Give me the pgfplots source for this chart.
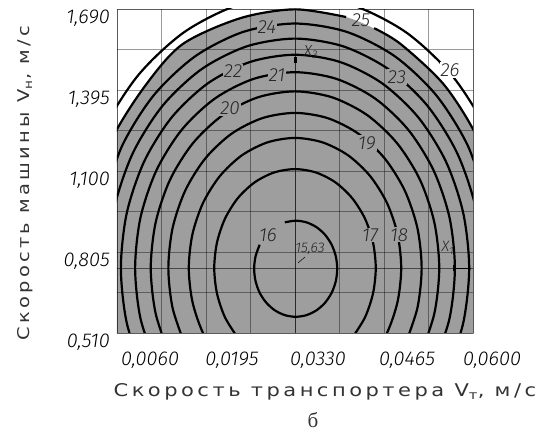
\documentclass[border=0pt]{standalone}
\usepackage{fontspec}
\usepackage{pgfplots}
\pgfplotsset{compat=1.18}
\setmainfont{DejaVu Sans}
\newfontfamily\tickfont{Fira Sans Light Italic}
\newfontfamily\labfont[FakeStretch=1.2,LetterSpace=20]{DejaVu Sans}
\newfontfamily\bfont{Liberation Serif}
\definecolor{cgray}{RGB}{158,158,158}
\begin{document}
\begin{tikzpicture}[lbl/.style={font=\tickfont\fontsize{19}{19}\selectfont, inner sep=1pt, fill=cgray, text=black!85}]
\path[use as bounding box] (-117pt,-102pt) rectangle (431pt,333pt);
\begin{axis}[
  at={(0pt,0pt)}, anchor=south west,
  scale only axis, width=356pt, height=324pt,
  xmin=0.006, xmax=0.06, ymin=0.51, ymax=1.69,
  scaled x ticks=false, scaled y ticks=false,
  axis on top,
  xtick={0.006,0.0195,0.033,0.0465,0.06},
  minor xtick={0.01275,0.02625,0.03975,0.05325},
  ytick={0.51,0.805,1.1,1.395,1.69},
  minor ytick={0.6575,0.9525,1.2475,1.5425},
  xticklabels={{\hspace*{20pt}0,0060},{\hspace*{6pt}0,0195},{0,0330},{0,0465},{\hspace*{-8pt}0,0600}},
  yticklabels={{0,510},{0,805},{1,100},{1,395},{1,690}},
  grid=both,
  major grid style={black, opacity=0.4, line width=0.6pt},
  minor grid style={black, opacity=0.4, line width=0.6pt},
  axis line style={black, opacity=0.4, line width=0.6pt},
  major tick length=0pt, minor tick length=0pt,
  xticklabel style={font=\tickfont\fontsize{20}{20}\selectfont, anchor=center, inner sep=0pt, xshift=23pt, yshift=-27pt},
  yticklabel style={font=\tickfont\fontsize{20}{20}\selectfont, anchor=east, inner sep=0pt, xshift=-7pt, yshift=-9pt},
  xlabel={Скорость транспортера V\textsubscript{т}, м/с},
  ylabel={Скорость машины V\textsubscript{н}, м/с},
  xlabel style={at={(axis description cs:0.584,-0.182)}, anchor=center, font=\labfont\fontsize{17.5}{17.5}\selectfont, text=black!80},
  ylabel style={at={(axis description cs:-0.258,0.463)}, anchor=center, font=\labfont\fontsize{16.2}{16.2}\selectfont, text=black!80},
  cl/.style={black, line width=2.2pt, smooth, mark=none},
]
% gray region (inside contour 25)
\addplot[draw=none, fill=cgray, smooth] coordinates {
(0.06074,0.27570) (0.06394,0.50291) (0.06504,0.74670) (0.06394,0.99049) (0.06074,1.21770)
(0.05565,1.41279) (0.04902,1.56247) (0.04129,1.65658) (0.03300,1.68870) (0.02471,1.65658)
(0.01598,1.56247) (0.01035,1.41279) (0.00526,1.21770) (0.00206,0.99049) (0.00096,0.74670)
(0.00206,0.50291) (0.00526,0.27570)};
% center lines
\addplot[black, opacity=0.55, line width=0.9pt] coordinates {(0.006,0.7467) (0.06,0.7467)};
\addplot[black, opacity=0.55, line width=0.9pt] coordinates {(0.033,0.51) (0.033,1.69)};
% contour 16
\addplot[cl] coordinates {
(0.02764,0.83150) (0.02702,0.78929) (0.02680,0.74400) (0.02702,0.69871) (0.02764,0.65650)
(0.02865,0.62026) (0.02995,0.59245) (0.03147,0.57497) (0.03310,0.56900) (0.03473,0.57497)
(0.03625,0.59245) (0.03756,0.62026) (0.03856,0.65650) (0.03919,0.69871) (0.03940,0.74400)
(0.03919,0.78929) (0.03856,0.83150) (0.03756,0.86774) (0.03625,0.89555) (0.03473,0.91303)
(0.03310,0.91900) (0.03147,0.91303)};
% contour 17
\addplot[cl] coordinates {
(0.04166,0.49200) (0.04361,0.56660) (0.04483,0.65348) (0.04525,0.74670) (0.04483,0.83992)
(0.04361,0.92680) (0.04166,1.00140) (0.03913,1.05863) (0.03617,1.09462) (0.03300,1.10690)
(0.02983,1.09462) (0.02688,1.05863) (0.02434,1.00140) (0.02239,0.92680) (0.02117,0.83992)
(0.02075,0.74670) (0.02117,0.65348) (0.02239,0.56660) (0.02434,0.49200)};
% contour 18
\addplot[cl] coordinates {
(0.04439,0.41170) (0.04695,0.50982) (0.04856,0.62409) (0.04911,0.74670) (0.04856,0.86931)
(0.04695,0.98358) (0.04439,1.08170) (0.04106,1.15698) (0.03717,1.20431) (0.03300,1.22046)
(0.02883,1.20431) (0.02494,1.15698) (0.02161,1.08170) (0.01905,0.98358) (0.01744,0.86931)
(0.01689,0.74670) (0.01744,0.62409) (0.01905,0.50982) (0.02161,0.41170)};
% contour 19
\addplot[cl] coordinates {
(0.04964,0.46422) (0.05156,0.60049) (0.05221,0.74670) (0.05156,0.89291) (0.04964,1.02918)
(0.04659,1.14618) (0.04261,1.23595) (0.03797,1.29239) (0.03300,1.31165) (0.02803,1.29239)
(0.02339,1.23595) (0.01941,1.14618) (0.01636,1.02918) (0.01444,0.89291) (0.01379,0.74670)
(0.01444,0.60049) (0.01636,0.46422)};
% contour 20
\addplot[cl] coordinates {
(0.05195,0.42503) (0.05413,0.58021) (0.05488,0.74670) (0.05413,0.91319) (0.05195,1.06837)
(0.04847,1.20160) (0.04394,1.30382) (0.03866,1.36809) (0.03300,1.39003) (0.02734,1.36809)
(0.02206,1.30382) (0.01753,1.20160) (0.01405,1.06837) (0.01187,0.91319) (0.01112,0.74670)
(0.01187,0.58021) (0.01405,0.42503)};
% contour 21
\addplot[cl] coordinates {
(0.05400,0.39013) (0.05643,0.56214) (0.05725,0.74670) (0.05643,0.93126) (0.05400,1.10327)
(0.05015,1.25095) (0.04513,1.36427) (0.03928,1.43551) (0.03300,1.45983) (0.02672,1.43551)
(0.02087,1.36427) (0.01585,1.25095) (0.01200,1.10327) (0.00957,0.93126) (0.00875,0.74670)
(0.00957,0.56214) (0.01200,0.39013)};
% contour 22
\addplot[cl] coordinates {
(0.05588,0.35834) (0.05851,0.54569) (0.05942,0.74670) (0.05851,0.94771) (0.05588,1.13506)
(0.05168,1.29591) (0.04621,1.41933) (0.03984,1.49693) (0.03300,1.52341) (0.02616,1.49693)
(0.01979,1.41933) (0.01432,1.29591) (0.01013,1.13506) (0.00749,0.94771) (0.00659,0.74670)
(0.00749,0.54569) (0.01013,0.35834)};
% contour 23
\addplot[cl] coordinates {
(0.06044,0.53049) (0.06141,0.74670) (0.06044,0.96291) (0.05761,1.16443) (0.05309,1.33745)
(0.04721,1.47020) (0.04035,1.55366) (0.03300,1.58215) (0.02565,1.55366) (0.01879,1.47020)
(0.01291,1.33745) (0.00839,1.16443) (0.00556,0.96291) (0.00459,0.74670) (0.00556,0.53049)};
% contour 24
\addplot[cl] coordinates {
(0.06225,0.97712) (0.05922,1.19186) (0.05441,1.37624) (0.04814,1.51772) (0.04084,1.60666)
(0.03300,1.63702) (0.02516,1.60666) (0.01786,1.51772) (0.01159,1.37624) (0.00678,1.19186)
(0.00375,0.97712)};
% contour 25 (two pieces around its label)
\addplot[cl] coordinates {
(0.06394,0.99049) (0.06074,1.21770) (0.05565,1.41279) (0.04902,1.56247) (0.04500,1.62012)};
\addplot[cl] coordinates {
(0.04075,1.66072) (0.03300,1.68870) (0.02471,1.65658) (0.01598,1.56247) (0.01035,1.41279)
(0.00526,1.21770) (0.00206,0.99049)};
% contour 26
\addplot[cl] coordinates {
(0.06556,1.00318) (0.06219,1.24221) (0.05683,1.44745) (0.04985,1.60492) (0.04172,1.70393)
(0.03300,1.73772) (0.02428,1.70393) (0.01615,1.60492) (0.00917,1.44745) (0.00381,1.24221)
(0.00045,1.00318)};
% markers X1, X3
\addplot[black, line width=3pt] coordinates {(0.033,1.492) (0.033,1.515)};
\addplot[black, line width=1pt] coordinates {(0.0571,0.7467) (0.0597,0.7467)};
\addplot[black, line width=2.5pt] coordinates {(0.0571,0.737) (0.0571,0.756)};
\addplot[black, line width=0.5pt] coordinates {(0.03452,0.7868) (0.03345,0.7650)};
% labels
\node[lbl, fill=none] at (axis cs:0.0289,0.867) {16};
\node[lbl] at (axis cs:0.04438,0.867) {17};
\node[lbl] at (axis cs:0.0488,0.867) {18};
\node[lbl] at (axis cs:0.04392,1.202) {19};
\node[lbl] at (axis cs:0.02314,1.3295) {20};
\node[lbl] at (axis cs:0.03027,1.4496) {21};
\node[lbl] at (axis cs:0.0236,1.4642) {22};
\node[lbl] at (axis cs:0.04847,1.4423) {23};
\node[lbl] at (axis cs:0.02875,1.6244) {24};
\node[lbl, fill=none] at (axis cs:0.04301,1.6500) {25};
\node[lbl, fill=white] at (axis cs:0.05651,1.4678) {26};
\node[lbl, fill=none, font=\tickfont\fontsize{14}{14}\selectfont] at (axis cs:0.03528,0.816) {15,63};
\node[lbl, fill=none, font=\tickfont\fontsize{16}{16}\selectfont] at (axis cs:0.03543,1.5334) {X\textsubscript{3}};
\node[lbl, fill=none, inner sep=0pt, font=\tickfont\fontsize{15}{15}\selectfont] at (axis cs:0.05620,0.8200) {X\textsubscript{1}};
\end{axis}
\node[font=\bfont\fontsize{21}{21}\selectfont, text=black!80, inner sep=0pt] at (196pt,-87pt) {б};
\end{tikzpicture}
\end{document}
